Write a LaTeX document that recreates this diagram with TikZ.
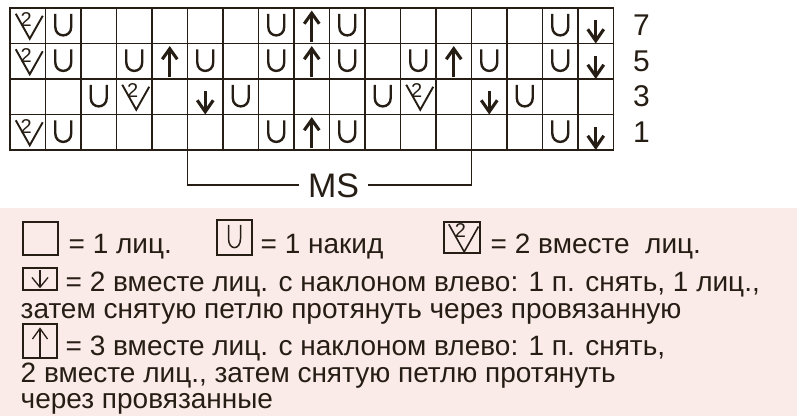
\documentclass[tikz,border=0pt]{standalone}
\usepackage{fontspec}
\setmainfont{Liberation Sans}
\definecolor{ink}{RGB}{38,30,20}
\definecolor{blush}{RGB}{250,235,232}

\begin{document}
\begin{tikzpicture}[x=1pt,y=-1pt,
  gridline/.style={draw=ink,line width=1.8pt,line cap=rect},
  bracket/.style={draw=ink,line width=1.8pt},
  keybox/.style={draw=ink,line width=1.5pt,inner sep=0pt},
  keytext/.style={anchor=base west,inner sep=0pt,text=ink,font=\fontsize{28}{30}\selectfont},
  rownum/.style={anchor=base west,inner sep=0pt,text=ink,font=\fontsize{30}{32}\selectfont},
  mslabel/.style={anchor=base,inner xsep=9pt,inner ysep=0pt,text=ink,font=\fontsize{34}{36}\selectfont},
  glyph/.style={draw=ink,line width=2.4pt},
  arrowglyph/.style={draw=ink,line width=3.1pt},
  vglyph/.style={draw=ink,line width=1.9pt},
  pics/stk/.style={code={}},
  pics/stu/.style={code={\draw[glyph] (-8,-12) -- (-8,1) .. controls (-8,12.5) and (8,12.5) .. (8,1) -- (8,-12);}},
  pics/sta/.style={code={\draw[arrowglyph] (0,16) -- (0,-12); \draw[arrowglyph] (-7.5,-2) -- (0,-12.5) -- (7.5,-2);}},
  pics/std/.style={code={\draw[arrowglyph] (0,-5.5) -- (0,14.5); \draw[arrowglyph] (-8,3.5) -- (0,15) -- (8,3.5);}},
  pics/stt/.style={code={\draw[vglyph] (-12,-12) -- (2,13) -- (15,-10);
    \node[inner sep=0pt,text=ink,font=\fontsize{20}{20}\selectfont] at (-1.5,-6) {2};}}]
\def\cw{35.5}
\useasboundingbox (0,0) rectangle (797,416);
\fill[blush] (0,208) rectangle (797,416);

% chart, rows 7,5,3,1 from the top
\foreach \rowdata [count=\r from 0] in {{t,u,k,k,k,k,k,u,a,u,k,k,k,k,k,u,d},
    {t,u,k,u,a,u,k,u,a,u,k,u,a,u,k,u,d},
    {k,k,u,t,k,d,u,k,k,k,u,t,k,d,u,k,k},
    {t,u,k,k,k,k,k,u,a,u,k,k,k,k,k,u,d}}
  \foreach \s [count=\c from 0] in \rowdata
    \pic at ({10+(\c+0.5)*\cw},{8+(\r+0.5)*\cw}) {st\s};
\foreach \c in {0,...,17}
  \draw[gridline] ({10+\c*\cw},8) -- ({10+\c*\cw},{8+4*\cw});
\foreach \r in {0,...,4}
  \draw[gridline] (10,{8+\r*\cw}) -- ({10+17*\cw},{8+\r*\cw});

\foreach \n [count=\r from 0] in {7,5,3,1}
  \node[rownum] (row\n) at (633,{8+(\r+0.5)*\cw+10}) {\n};

% repeat
\coordinate (msl) at ({10+5*\cw},{8+4*\cw});
\coordinate (msr) at ({10+13*\cw},{8+4*\cw});
\node[mslabel] (ms) at (333.5,197) {MS};
\draw[bracket] (msl) |- (ms.west);
\draw[bracket] (ms.east) -| (msr);

% key
\begin{scope}[glyph/.style={draw=ink,line width=1.5pt},
    arrowglyph/.style={draw=ink,line width=1.3pt},
    vglyph/.style={draw=ink,line width=1.6pt}]
\node[keybox,minimum width=35pt,minimum height=33pt] (kk) at (40.5,238.5) {};
\node[keytext] (kkt) at (68.5,253) {= 1 лиц.};
\node[keybox,minimum width=35pt,minimum height=35pt] (ku) at (234.5,237.5) {};
\pic[xscale=0.75,yscale=1.05] at (ku) {stu};
\node[keytext] (kut) at (260.5,253) {= 1 накид};
\node[keybox,minimum width=36pt,minimum height=31pt] (kt) at (462,237.5) {};
\pic[scale=1.1] at (kt) {stt};
\node[keytext] (ktt) at (490.5,253) {= 2 вместе\ \ лиц.};

\node[keybox,minimum width=34pt,minimum height=22pt] (kd) at (40,279) {};
\pic[yscale=0.85] at (40,274.5) {std};
\node[keytext] (kdt) at (65.5,291) {= 2 вместе лиц. с наклоном влево: 1 п. снять, 1 лиц.,};
\node[keytext] (kdt2) at (20.5,318) {затем снятую петлю протянуть через провязанную};

\node[keybox,minimum width=34pt,minimum height=34pt] (ka) at (40,341) {};
\pic at (ka) {sta};
\node[keytext] (kat) at (65.5,355.5) {= 3 вместе лиц. с наклоном влево: 1 п. снять,};
\node[keytext] (kat2) at (20.5,382) {2 вместе лиц., затем снятую петлю протянуть};
\node[keytext] (kat3) at (20.5,408.5) {через провязанные};
\end{scope}
\end{tikzpicture}
\end{document}
